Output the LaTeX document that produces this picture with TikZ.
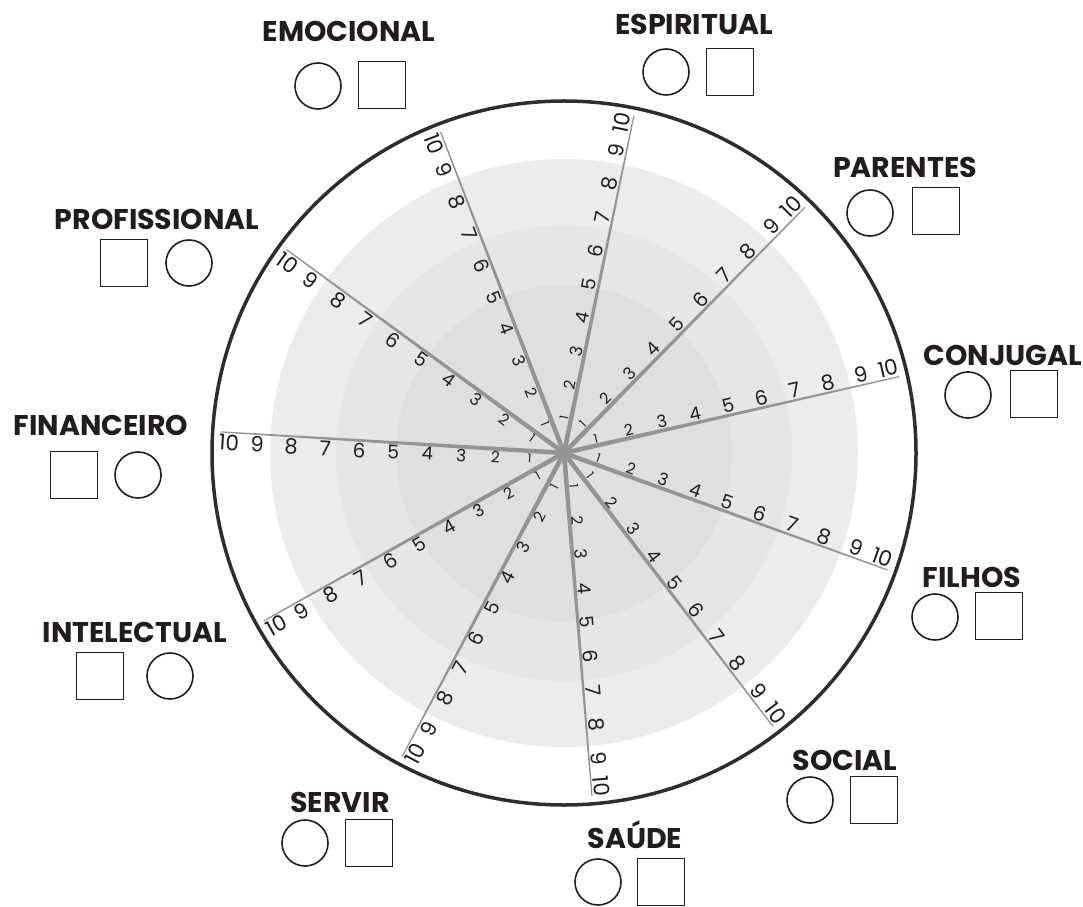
\documentclass[tikz,border=0pt]{standalone}
\usepackage{fontspec}
\setmainfont{Poppins}
\usetikzlibrary{calc}
\definecolor{ink}{RGB}{35,28,28}
\definecolor{ringa}{RGB}{236,236,236}
\definecolor{ringb}{RGB}{230,230,230}
\definecolor{ringc}{RGB}{223,223,223}
\definecolor{spokec}{RGB}{148,148,148}
\definecolor{rim}{RGB}{45,45,45}
\definecolor{numc}{RGB}{30,30,30}
\begin{document}
\begin{tikzpicture}[x=1pt,y=1pt,
  lbl/.style={font=\bfseries\fontsize{28.5}{28.5}\selectfont, text=ink, inner sep=0pt, anchor=base},
  circ/.style={circle, draw=ink, line width=1.6pt, minimum size=46pt, inner sep=0pt},
  sq/.style={rectangle, draw=ink, line width=1.6pt, minimum size=47pt, inner sep=0pt},
  num/.style={inner sep=0pt, text=numc}]
\useasboundingbox (0,0) rectangle (1083,906);
\fill[white] (0,0) rectangle (1083,906);
\coordinate (C) at (564,453);
\fill[ringa] (C) circle (294);
\fill[ringb] (C) circle (228);
\fill[ringc] (C) circle (168);
\draw[rim, line width=3.5pt] (C) circle (352);
% spokes and scale numbers
\foreach \k in {0,...,10}{
  \pgfmathsetmacro\a{78.3-32.7273*\k}
  \pgfmathsetmacro\an{mod(\a+540,360)-180}
  \pgfmathsetmacro\r{ifthenelse(\an>90, \an-180, ifthenelse(\an<-90, \an+180, \an))}
  \fill[spokec] ($(C)+(\a+90:2.4)$) -- ($(C)+(\a:344)+(\a+90:0.6)$) -- ($(C)+(\a:344)+(\a-90:0.6)$) -- ($(C)+(\a-90:2.4)$) -- cycle;
  \foreach \n/\fs in {1/12,2/15.5,3/17,4/18,5/19,6/20,7/20.5,8/21,9/21,10/21.5}{
    \pgfmathsetmacro\d{\n==10 ? 335 : 34.1*\n}
    \pgfmathsetmacro\off{3+0.34*\fs}
    \node[num, font=\fontsize{\fs}{\fs}\selectfont, rotate=\r] (n\k-\n) at ($(C)+(\a:\d)+(\a+90:\off)$) {\n};
  }
}
\fill[spokec] (C) circle (5);
% labels
\node[lbl] (emo) at (349,864) {EMOCIONAL};
\node[lbl] (esp) at (694,871) {ESPIRITUAL};
\node[lbl] (par) at (905,728) {PARENTES};
\node[lbl] (con) at (1003,540) {CONJUGAL};
\node[lbl] (fil) at (972,319) {FILHOS};
\node[lbl] (soc) at (845,136) {SOCIAL};
\node[lbl] (sau) at (635,58) {SAÚDE};
\node[lbl] (ser) at (340,94) {SERVIR};
\node[lbl] (int) at (135,264) {INTELECTUAL};
\node[lbl] (pro) at (157,676) {PROFISSIONAL};
\node[lbl] (fin) at (101,471) {FINANCEIRO};
% boxes
\node[circ] (emo-c) at (318,820) {}; \node[sq] (emo-s) at (382,821) {};
\node[circ] (esp-c) at (666,834) {}; \node[sq] (esp-s) at (730,834) {};
\node[circ] (par-c) at (870,693) {}; \node[sq] (par-s) at (936,695) {};
\node[circ] (con-c) at (968,511) {}; \node[sq] (con-s) at (1034,512) {};
\node[circ] (fil-c) at (935,289) {}; \node[sq] (fil-s) at (999,290) {};
\node[circ] (soc-c) at (810,106) {}; \node[sq] (soc-s) at (874,106) {};
\node[circ] (sau-c) at (598,24) {}; \node[sq] (sau-s) at (661,24) {};
\node[circ] (ser-c) at (305,63) {}; \node[sq] (ser-s) at (369,63) {};
\node[sq] (int-s) at (100,230) {}; \node[circ] (int-c) at (170,230) {};
\node[sq] (pro-s) at (124,643) {}; \node[circ] (pro-c) at (189,643) {};
\node[sq] (fin-s) at (74,431) {}; \node[circ] (fin-c) at (138,431) {};
\end{tikzpicture}
\end{document}
